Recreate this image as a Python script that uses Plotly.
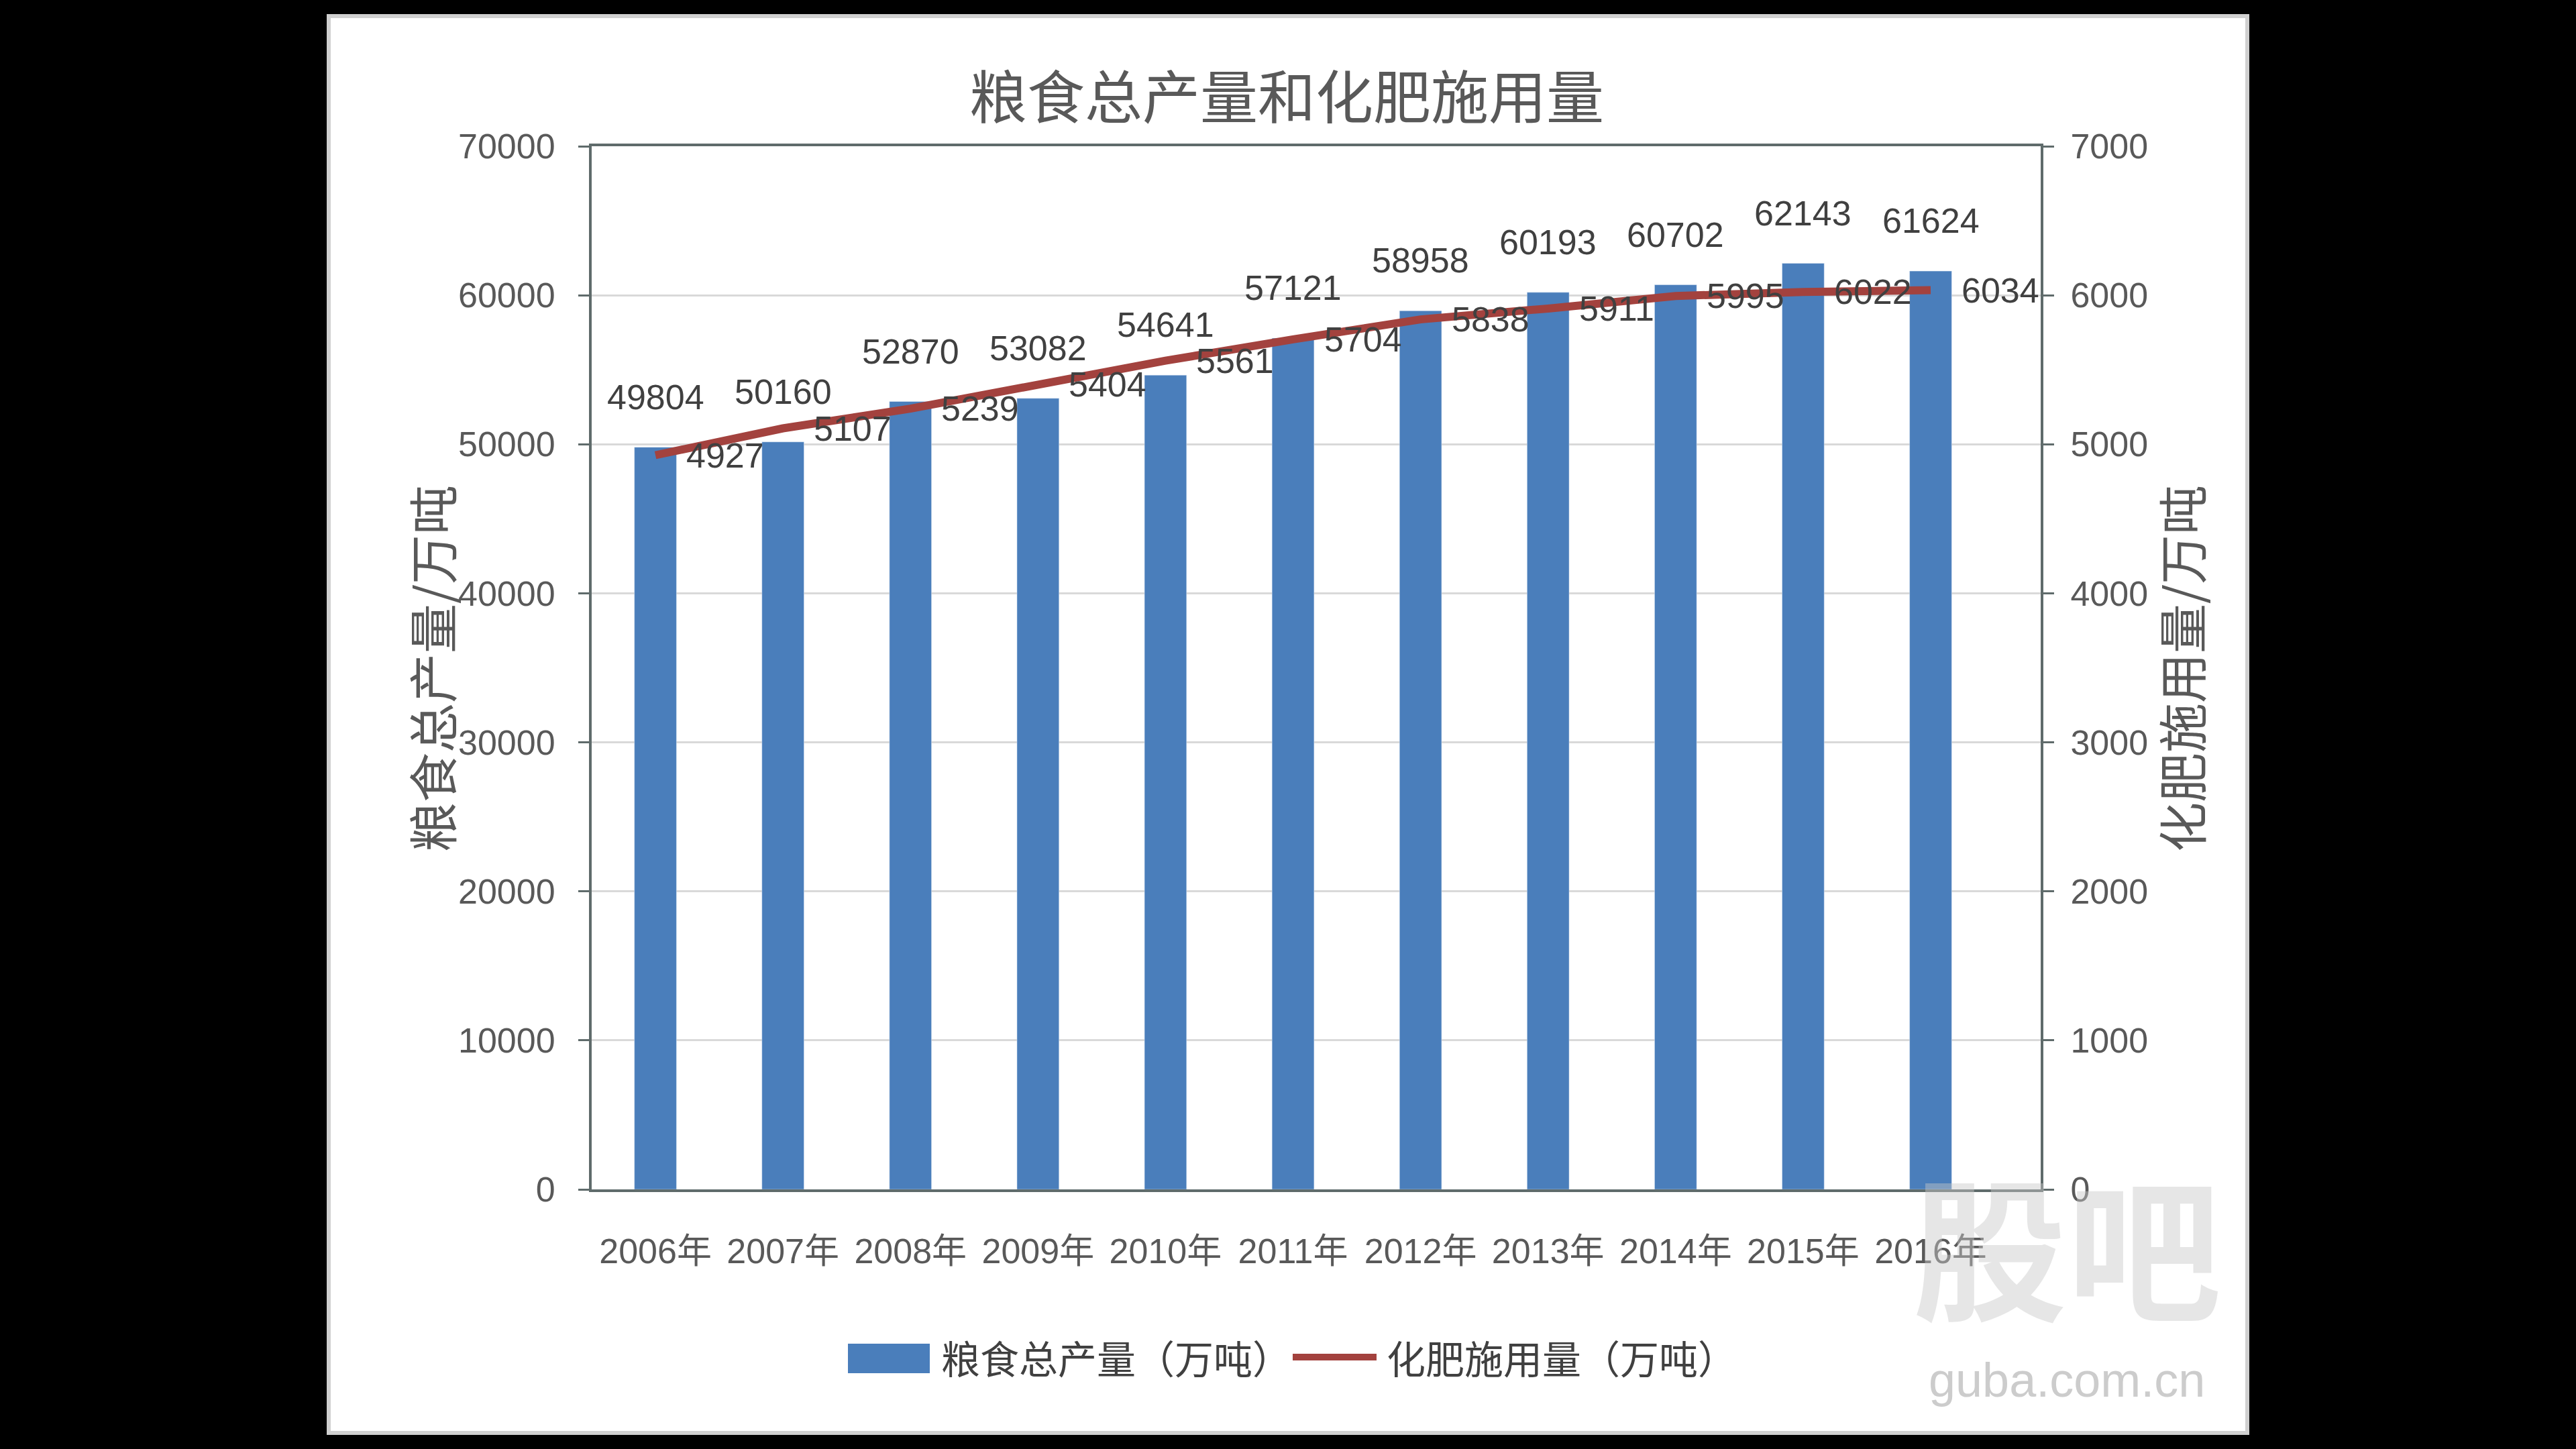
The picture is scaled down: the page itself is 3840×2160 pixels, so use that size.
import plotly.graph_objects as go

# ---------------- data ----------------
years = ["2006年", "2007年", "2008年", "2009年", "2010年", "2011年",
         "2012年", "2013年", "2014年", "2015年", "2016年"]
grain = [49804, 50160, 52870, 53082, 54641, 57121, 58958, 60193, 60702, 62143, 61624]
fert = [4927, 5107, 5239, 5404, 5561, 5704, 5838, 5911, 5995, 6022, 6034]
left_ticks = [0, 10000, 20000, 30000, 40000, 50000, 60000, 70000]
right_ticks = [0, 1000, 2000, 3000, 4000, 5000, 6000, 7000]

title_text = "粮食总产量和化肥施用量"
left_title = "粮食总产量/万吨"
right_title = "化肥施用量/万吨"
bar_name = "粮食总产量（万吨）"
line_name = "化肥施用量（万吨）"

# ---------------- layout geometry (pixels) ----------------
W, H = 3840, 2160
PL, PR, PT, PB = 882, 3042, 218, 1773


def px(x):
    return (x - PL) / (PR - PL)


def py(y):
    return (PB - y) / (PB - PT)


NUM_FONT = "Liberation Sans, Noto Sans CJK SC, sans-serif"
CJK_FONT = "Noto Sans CJK SC, sans-serif"
BLUE = "#4A7EBB"
RED = "#A3423E"
FRAME = "#5F6B6B"
GRID = "#D9D9D9"
TXT = "#404040"
TICK_TXT = "#595959"
NUM_SIZE = 52

fig = go.Figure()
fig.add_trace(go.Bar(x=years, y=grain, name=bar_name, marker_color=BLUE,
                     yaxis="y", showlegend=False))
fig.add_trace(go.Scatter(x=years, y=fert, name=line_name, mode="lines",
                         line=dict(color=RED, width=12), yaxis="y2",
                         showlegend=False))

annotations = []
# bar value labels
for xv, yv in zip(years, grain):
    annotations.append(dict(x=xv, y=yv, xref="x", yref="y", text=str(yv),
                            showarrow=False, xanchor="center", yanchor="bottom",
                            yshift=44,
                            font=dict(family=NUM_FONT, size=NUM_SIZE, color=TXT)))
# line value labels
for xv, yv in zip(years, fert):
    annotations.append(dict(x=xv, y=yv, xref="x", yref="y2", text=str(yv),
                            showarrow=False, xanchor="left", xshift=44,
                            yanchor="middle",
                            font=dict(family=NUM_FONT, size=NUM_SIZE, color=TXT)))
# axis titles
annotations.append(dict(x=px(642), y=py(997), xref="paper", yref="paper",
                        text=left_title, textangle=-90, showarrow=False,
                        xanchor="center", yanchor="middle",
                        font=dict(family=CJK_FONT, size=74, color=TICK_TXT)))
annotations.append(dict(x=px(3250), y=py(997), xref="paper", yref="paper",
                        text=right_title, textangle=-90, showarrow=False,
                        xanchor="center", yanchor="middle",
                        font=dict(family=CJK_FONT, size=74, color=TICK_TXT)))
# legend texts
annotations.append(dict(x=px(1401), y=py(2023), xref="paper", yref="paper",
                        text=bar_name, showarrow=False, xanchor="left",
                        yanchor="middle",
                        font=dict(family=CJK_FONT, size=58, color=TXT)))
annotations.append(dict(x=px(2065), y=py(2023), xref="paper", yref="paper",
                        text=line_name, showarrow=False, xanchor="left",
                        yanchor="middle",
                        font=dict(family=CJK_FONT, size=58, color=TXT)))
# watermark
annotations.append(dict(x=px(3081), y=py(1850), xref="paper", yref="paper",
                        text="<b>股吧</b>", showarrow=False,
                        xanchor="center", yanchor="middle",
                        font=dict(family=CJK_FONT, size=230,
                                  color="rgba(200,200,200,0.45)")))
annotations.append(dict(x=px(3081), y=py(2057), xref="paper", yref="paper",
                        text="guba.com.cn", showarrow=False,
                        xanchor="center", yanchor="middle",
                        font=dict(family="Liberation Sans, sans-serif", size=72,
                                  color="rgba(170,170,170,0.6)")))

shapes = [
    # white panel
    dict(type="rect", xref="paper", yref="paper", layer="below",
         x0=px(490), x1=px(3350), y0=py(2136), y1=py(24),
         fillcolor="white", line=dict(color="#D0D0D0", width=6)),
    # legend symbols
    dict(type="rect", xref="paper", yref="paper",
         x0=px(1264), x1=px(1386), y0=py(2047), y1=py(2003),
         fillcolor=BLUE, line=dict(width=0)),
    dict(type="line", xref="paper", yref="paper",
         x0=px(1927), x1=px(2052), y0=py(2023), y1=py(2023),
         line=dict(color=RED, width=10)),
]

fig.update_layout(
    width=W, height=H,
    margin=dict(l=PL, r=W - PR, t=PT, b=H - PB, pad=0),
    paper_bgcolor="black",
    plot_bgcolor="white",
    bargap=0.67,
    showlegend=False,
    title=dict(text=title_text, x=1918 / W, xref="container", xanchor="center",
               y=1 - 147 / H, yref="container", yanchor="middle",
               font=dict(family=CJK_FONT, size=86, color=TICK_TXT)),
    xaxis=dict(type="category", showline=True, linecolor=FRAME, linewidth=4,
               mirror=True, ticks="", showgrid=False, tickangle=0,
               tickfont=dict(family=NUM_FONT, size=NUM_SIZE, color=TICK_TXT),
               ticklabelstandoff=44),
    yaxis=dict(range=[0, 70000], tickvals=left_ticks,
               ticktext=[str(v) for v in left_ticks],
               showline=True, linecolor=FRAME, linewidth=4,
               ticks="outside", ticklen=16, tickcolor=FRAME, tickwidth=3,
               showgrid=True, gridcolor=GRID, gridwidth=3, zeroline=False,
               tickfont=dict(family=NUM_FONT, size=NUM_SIZE, color=TICK_TXT),
               ticklabelstandoff=24),
    yaxis2=dict(range=[0, 7000], tickvals=right_ticks,
                ticktext=[str(v) for v in right_ticks],
                overlaying="y", side="right",
                showline=True, linecolor=FRAME, linewidth=4,
                ticks="outside", ticklen=16, tickcolor=FRAME, tickwidth=3,
                showgrid=False, zeroline=False,
                tickfont=dict(family=NUM_FONT, size=NUM_SIZE, color=TICK_TXT),
                ticklabelstandoff=14),
    annotations=annotations,
    shapes=shapes,
)

fig.write_html("out.html")
